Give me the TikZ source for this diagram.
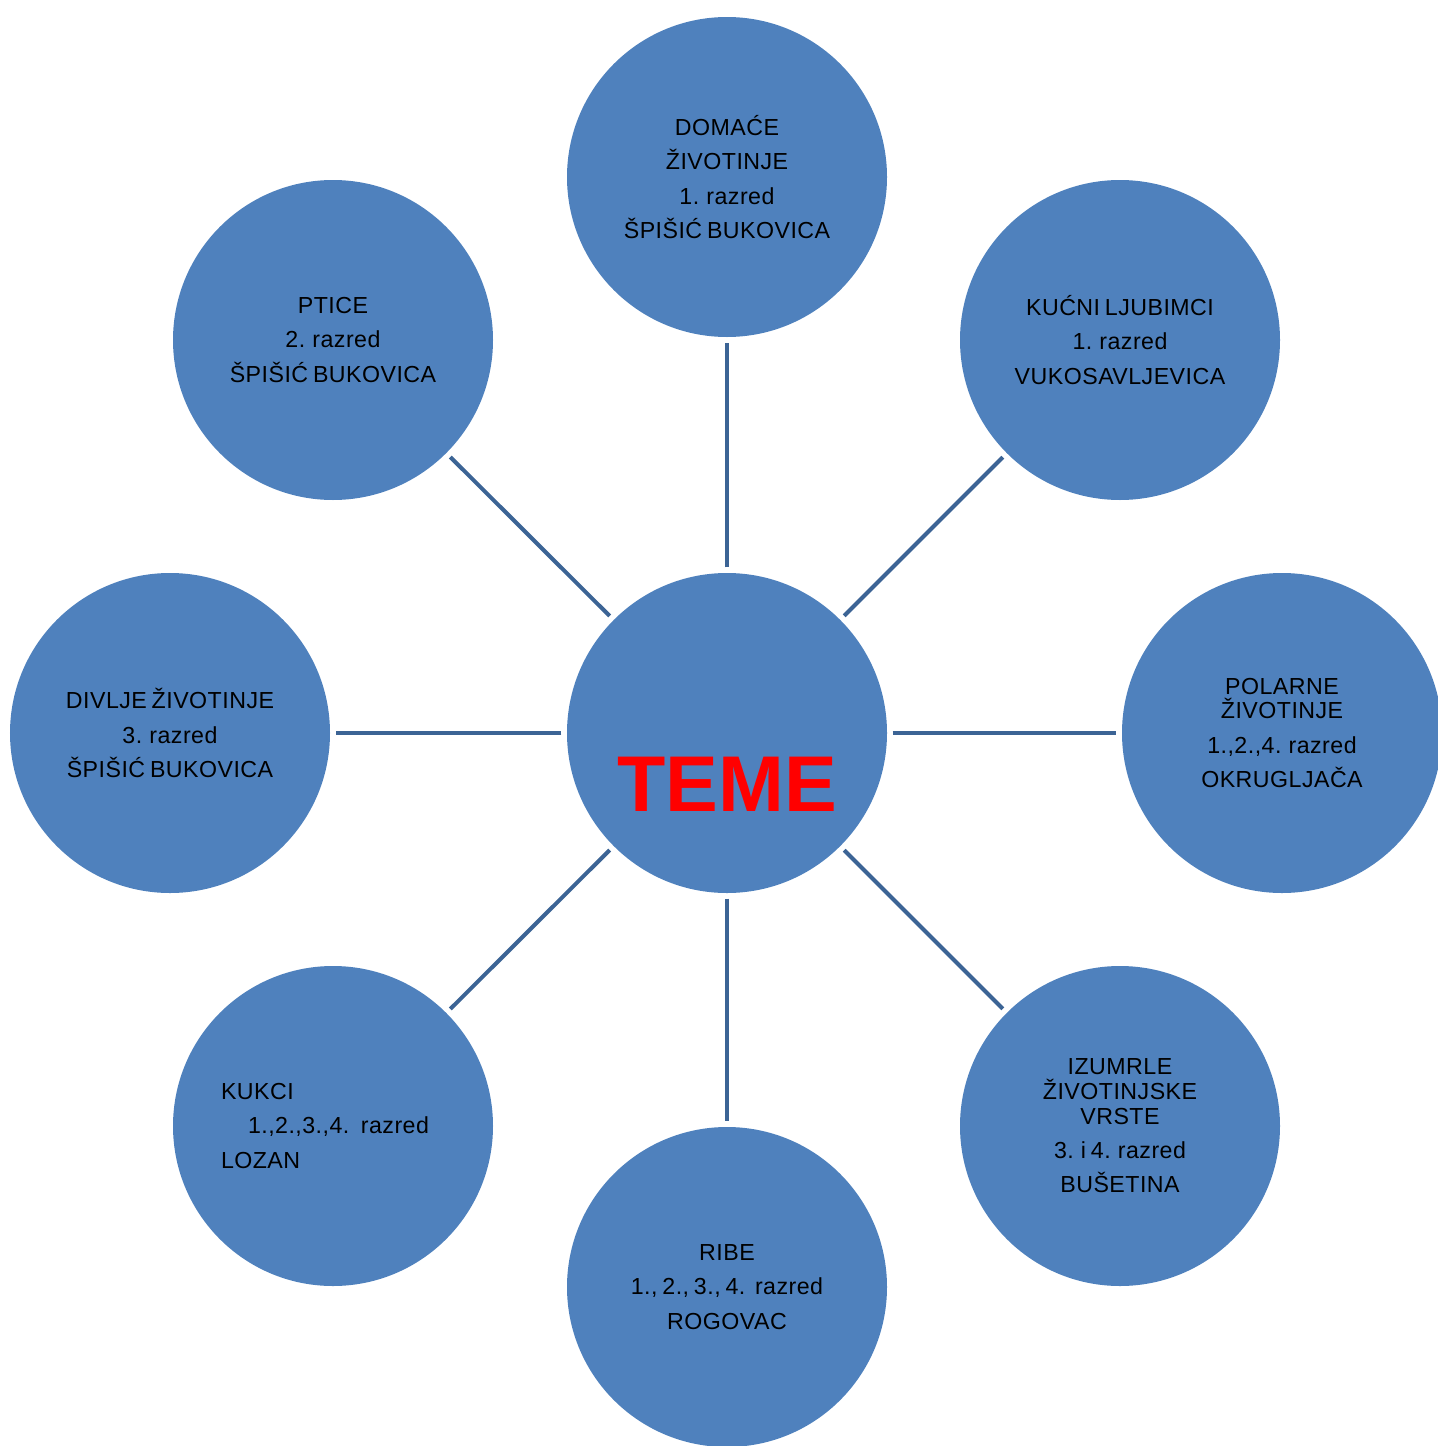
\documentclass[tikz,border=0pt]{standalone}
\usepackage{fontspec}
\setmainfont{Liberation Sans}
\newfontfamily\lblfont{Liberation Sans}[LetterSpace=2, WordSpace=0.7]
\definecolor{topicblue}{HTML}{4F81BD}
\definecolor{linkblue}{HTML}{3C6495}
\tikzset{
  topic/.style={circle, fill=topicblue, minimum size=3.2cm, inner sep=0pt,
    align=center, font=\lblfont\fontsize{6.6}{9.8}\selectfont},
  link/.style={draw=linkblue, line width=0.04cm, shorten <=0.05cm, shorten >=0.05cm}
}

\begin{document}
\begin{tikzpicture}
    \useasboundingbox (0,0) rectangle (14.37,-14.46);
    % centre
    \node[topic] (teme) at (7.27,-7.33) {};
    \node[font=\bfseries\fontsize{22.5}{27}\selectfont, text=red, inner sep=0pt] (tematxt) at (7.27,-7.845) {TEME};
    % topics round it
    \node[topic] (domace) at (7.27,-1.77) {DOMAĆE\\ŽIVOTINJE\\1. razred\\ŠPIŠIĆ BUKOVICA};
    \node[topic] (kucni) at (11.20,-3.40) {KUĆNI LJUBIMCI\\1. razred\\VUKOSAVLJEVICA};
    \node[topic] (polarne) at (12.82,-7.33) {POLARNE\\[-2.8pt]ŽIVOTINJE\\1.,2.,4. razred\\OKRUGLJAČA};
    \node[topic] (izumrle) at (11.20,-11.26) {IZUMRLE\\[-2.8pt]ŽIVOTINJSKE\\[-2.8pt]VRSTE\\3. i 4. razred\\BUŠETINA};
    \node[topic] (ribe) at (7.27,-12.87) {RIBE\\1., 2., 3., 4.\ \ razred\\ROGOVAC};
    \node[topic, text width=2.24cm, align=left] (kukci) at (3.33,-11.26) {KUKCI\\\hspace*{0.27cm}1.,2.,3.,4. razred\\LOZAN};
    \node[topic] (divlje) at (1.70,-7.33) {DIVLJE ŽIVOTINJE\\3. razred\\ŠPIŠIĆ BUKOVICA};
    \node[topic] (ptice) at (3.33,-3.40) {PTICE\\2. razred\\ŠPIŠIĆ BUKOVICA};
    % spokes
    \foreach \n in {domace,kucni,polarne,izumrle,ribe,kukci,divlje,ptice}
      \draw[link] (teme) -- (\n);
\end{tikzpicture}
\end{document}
